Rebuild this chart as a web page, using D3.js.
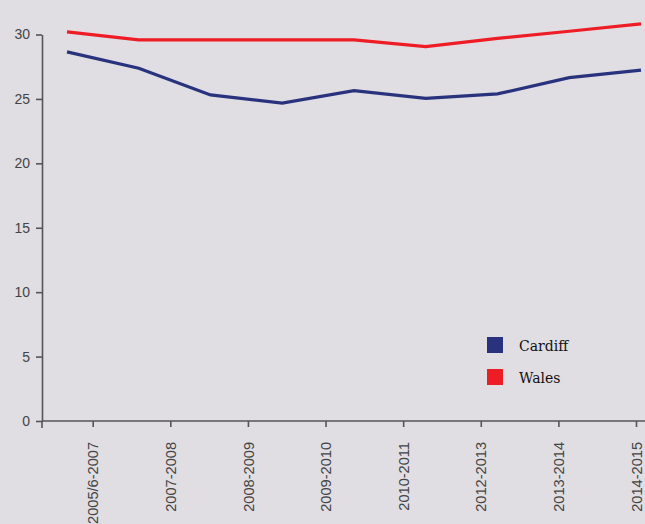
<!DOCTYPE html>
<html><head><meta charset="utf-8">
<script src="https://cdn.jsdelivr.net/npm/d3@7"></script>
<style>html,body{margin:0;padding:0;background:#e0dde3;overflow:hidden}</style>
</head><body>
<svg id="c" width="645" height="524"></svg>
<script>
const categories = ["2005/6-2007","2007-2008","2008-2009","2009-2010","2010-2011","2012-2013","2013-2014","2014-2015"];
const cardiff = [28.65, 27.38, 25.31, 24.67, 25.64, 25.05, 25.39, 26.65, 27.23];
const wales   = [30.2, 29.58, 29.58, 29.58, 29.58, 29.06, 29.7, 30.25, 30.82];
const yTicks = [0,5,10,15,20,25,30];
const seriesNames = ["Cardiff","Wales"];
const colors = ["#29337d","#ee1d25"];

const svg = d3.select("#c");
svg.append("rect").attr("width",645).attr("height",524).attr("fill","#e0dde3");

const y = d3.scaleLinear().domain([0,30]).range([421,34.5]);
const xCat = d3.scalePoint().domain(categories).range([92.7,636]);
const xData = d3.scaleLinear().domain([0,8]).range([67,641]);

const axisColor = "#555";
// y axis
const gy = svg.append("g").attr("transform","translate(42,0)")
  .call(d3.axisLeft(y).tickValues(yTicks).tickSize(6).tickPadding(6).tickSizeOuter(0));
gy.select(".domain").attr("stroke",axisColor).attr("stroke-width",1.6);
gy.selectAll(".tick line").attr("stroke",axisColor).attr("stroke-width",1.6);
gy.selectAll(".tick text").attr("fill","#444").style("font-family","'Liberation Sans',Arial,sans-serif").style("font-size","14px");

// x axis
const gx = svg.append("g").attr("transform","translate(0,421)")
  .call(d3.axisBottom(xCat).tickSize(6).tickSizeOuter(0).tickPadding(0));
gx.select(".domain").attr("d","M42,0H645").attr("stroke",axisColor).attr("stroke-width",1.6);
gx.append("line").attr("x1",42).attr("x2",42).attr("y1",0).attr("y2",7).attr("stroke",axisColor).attr("stroke-width",1.6);
gx.selectAll(".tick line").attr("stroke",axisColor).attr("stroke-width",1.6);
gx.selectAll(".tick text")
  .attr("fill","#444")
  .style("font-family","'Liberation Sans',Arial,sans-serif").style("font-size","14.6px")
  .attr("transform","rotate(-90)")
  .attr("x",-21).attr("y",0).attr("dy","0.35em")
  .attr("text-anchor","end");

// lines
const line = d3.line().x((d,i)=>xData(i)).y(d=>y(d));
[cardiff, wales].forEach((s,k)=>{
  svg.append("path").datum(s).attr("d",line).attr("fill","none")
    .attr("stroke",colors[k]).attr("stroke-width",3.2).attr("stroke-linejoin","miter");
});

// legend
const lg = svg.append("g");
seriesNames.forEach((n,k)=>{
  lg.append("rect").attr("x",487).attr("y",337+k*32).attr("width",16).attr("height",16).attr("fill",colors[k]);
  lg.append("text").attr("x",519).attr("y",351+k*32).text(n)
    .attr("fill","#111").style("font-family","'DejaVu Serif',serif").style("font-size","14px");
});
</script>
</body></html>
